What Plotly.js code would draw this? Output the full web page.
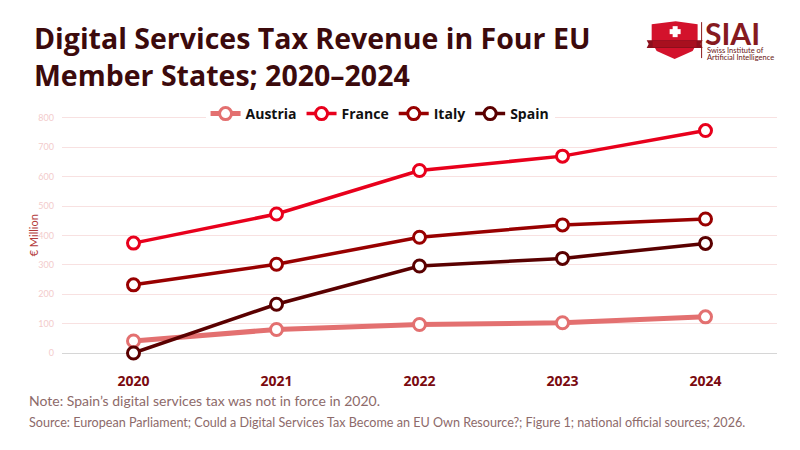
<!DOCTYPE html>
<html>
<head>
<meta charset="utf-8">
<script src="https://cdn.plot.ly/plotly-3.0.1.min.js"></script>
<style>html,body{margin:0;padding:0;background:#fff;}#chart{width:800px;height:450px;}</style>
</head>
<body>
<div id="chart"></div>
<script>
// ---- data ----
var years = ["2020", "2021", "2022", "2023", "2024"];
var austria = [41, 80, 97, 103, 123];
var france = [374, 473, 621, 670, 757];
var italy = [232, 302, 394, 436, 456];
var spain = [0, 166, 296, 322, 373];
var seriesNames = ["Austria", "France", "Italy", "Spain"];
var yTicks = [0, 100, 200, 300, 400, 500, 600, 700, 800];

var titleLines = ["Digital Services Tax Revenue in Four EU", "Member States; 2020–2024"];
var yTitle = "€ Million";
var noteText = "Note: Spain’s digital services tax was not in force in 2020.";
var sourceText = "Source: European Parliament; Could a Digital Services Tax Become an EU Own Resource?; Figure 1; national official sources; 2026.";
var logoText = "SIAI";
var logoSub = ["Swiss Institute of", "Artificial Intelligence"];

// ---- layout helpers ----
var W = 800, H = 450;
var M = {l: 61.5, r: 22.5, t: 115, b: 96.6};
var PW = W - M.l - M.r, PH = H - M.t - M.b;
function px(x) { return (x - M.l) / PW; }
function py(y) { return (H - M.b - y) / PH; }

var colors = ["#e37070", "#e8001c", "#980000", "#5a0000"];
var widths = [5, 3.5, 3.5, 3.5];
var vals = [austria, france, italy, spain];

var traces = seriesNames.map(function (n, i) {
  return {
    type: "scatter", mode: "lines+markers", name: n,
    x: years, y: vals[i],
    line: {color: colors[i], width: widths[i]},
    marker: {size: 12, color: "#ffffff", line: {color: colors[i], width: 3}},
    cliponaxis: false
  };
});

var fontFam = "Lato, 'Open Sans', sans-serif";
var boldFam = "'Open Sans', Lato, sans-serif";

function P(pts) {
  return pts.map(function (p, k) {
    if (p === "Z") return "Z";
    return (k === 0 ? "M" : "L") + px(p[0]).toFixed(5) + "," + py(p[1]).toFixed(5);
  }).join(" ");
}
var shield = P([[652, 24], [676, 21], [698, 24], [698, 42], [693, 51], [675, 59], [657, 51], [652, 42], "Z"]);
var ribbon = P([[647, 40], [703, 40], [701, 44], [703, 48], [647, 48], [649, 44], "Z"]);
var band = P([[653, 41], [697, 41], [697, 47], [653, 47], "Z"]);
var crossV = P([[673, 26], [678, 26], [678, 37], [673, 37], "Z"]);
var crossH = P([[670, 29], [681, 29], [681, 34], [670, 34], "Z"]);

var shapes = [
  {type: "path", xref: "paper", yref: "paper", path: shield, fillcolor: "#d3122c", line: {width: 0}},
  {type: "path", xref: "paper", yref: "paper", path: ribbon, fillcolor: "#8c0f1c", line: {width: 0}},
  {type: "path", xref: "paper", yref: "paper", path: band, fillcolor: "#a8101f", line: {width: 0}},
  {type: "path", xref: "paper", yref: "paper", path: crossV, fillcolor: "#ffffff", line: {width: 0}},
  {type: "path", xref: "paper", yref: "paper", path: crossH, fillcolor: "#ffffff", line: {width: 0}},
  {type: "line", xref: "paper", yref: "paper", x0: px(702), x1: px(702), y0: py(22), y1: py(58), line: {color: "#8c1a1a", width: 1}}
];

function ann(x, y, text, font, extra) {
  var a = {xref: "paper", yref: "paper", x: px(x), y: py(y), xanchor: "left", yanchor: "middle",
           showarrow: false, text: text, font: font, borderpad: 0};
  if (extra) for (var k in extra) a[k] = extra[k];
  return a;
}

var annotations = [
  ann(32, 38, "<b>" + titleLines[0] + "</b>", {family: boldFam, size: 28.5, color: "#3c0a0c"}),
  ann(32, 75, "<b>" + titleLines[1] + "</b>", {family: boldFam, size: 28.5, color: "#3c0a0c"}),
  ann(704, 32.5, "<b>" + logoText + "</b>", {family: fontFam, size: 30, color: "#861a1f"}),
  ann(706, 50.5, logoSub[0], {family: fontFam, size: 7.5, color: "#6b1515"}),
  ann(706, 57, logoSub[1], {family: fontFam, size: 7.5, color: "#6b1515"}),
  ann(33, 236, yTitle, {family: fontFam, size: 11, color: "#b33a3a"}, {xanchor: "center", textangle: -90}),
  ann(27, 401, noteText, {family: fontFam, size: 14, color: "#8d6a6a"}),
  ann(27, 423, sourceText, {family: fontFam, size: 12.6, color: "#8d6a6a"})
];

var layout = {
  width: W, height: H,
  margin: M,
  paper_bgcolor: "#ffffff", plot_bgcolor: "#ffffff",
  showlegend: true,
  legend: {
    orientation: "h", x: px(380), xanchor: "center", y: py(114), yanchor: "middle",
    bgcolor: "#ffffff", font: {family: boldFam, size: 14, color: "#111111", weight: "bold"},
    itemwidth: 30, tracegroupgap: 0
  },
  xaxis: {
    type: "category", range: [-0.5, 4.5],
    showgrid: false, zeroline: false, showline: false, ticks: "",
    tickfont: {family: boldFam, size: 14, color: "#7a0a10", weight: "bold"},
    ticklabelstandoff: 18
  },
  yaxis: {
    range: [0, 810], tickvals: yTicks,
    showgrid: true, gridcolor: "#f8e1e1", gridwidth: 1,
    zeroline: true, zerolinecolor: "#d6d6d6", zerolinewidth: 1,
    showline: false, ticks: "",
    tickfont: {family: fontFam, size: 9, color: "#f3cccc"},
    ticklabelstandoff: 7
  },
  shapes: shapes,
  annotations: annotations
};

Plotly.newPlot("chart", traces, layout, {displayModeBar: false, staticPlot: true});
</script>
</body>
</html>
